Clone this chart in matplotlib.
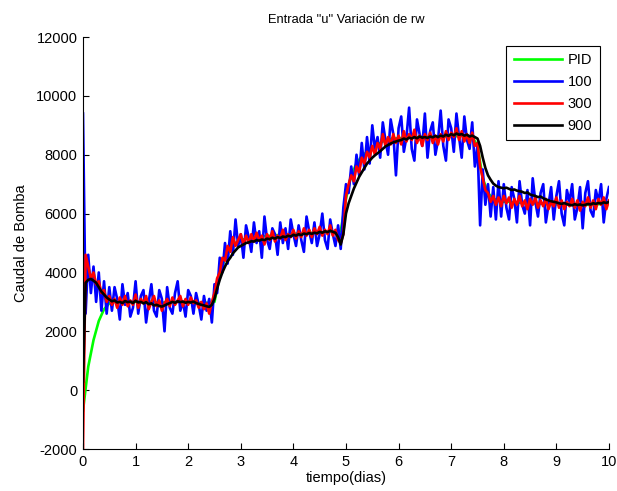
import numpy as np
import matplotlib.pyplot as plt

# time grids (dias)
t_fine = np.linspace(0, 10, 201)   # 0.05 dia
t_pid = np.linspace(0, 10, 101)    # 0.1 dia

# PID reference
u_pid = [-700, 800, 1700, 2350, 2750, 2950, 3000, 3000, 2990, 3000,
         3000, 3010, 2990, 3000, 2980, 2970, 2990, 3000, 3000, 2990,
         2980, 2970, 2960, 2980, 2960, 3000, 3900, 4500, 4850, 5000,
         5100, 5150, 5180, 5200, 5220, 5240, 5250, 5270, 5280, 5300,
         5310, 5320, 5330, 5340, 5350, 5360, 5370, 5380, 5380, 5400,
         6500, 7300, 7700, 7950, 8100, 8250, 8350, 8450, 8520, 8550,
         8560, 8570, 8580, 8590, 8600, 8600, 8600, 8610, 8620, 8620,
         8630, 8630, 8640, 8640, 8620, 8300, 7200, 6700, 6500, 6450,
         6400, 6400, 6380, 6370, 6360, 6350, 6350, 6340, 6330, 6330,
         6320, 6320, 6310, 6310, 6300, 6300, 6300, 6310, 6320, 6330,
         6340]

# rw = 100
u_100 = [9400, 2600, 4600, 3300, 4200, 3000, 4000, 2700, 3700, 2600, 3500,
         2700, 3500, 3100, 2400, 3600, 2900, 3300, 2500, 2800, 3700,
         2600, 3200, 3400, 2300, 3000, 3600, 2700, 2500, 3400, 3100,
         2000, 3500, 2800, 2600, 3300, 3700, 2700, 3000, 2500, 3400,
         3200, 2600, 3300, 2900, 2400, 3200, 2700,
         3100, 2300, 3600, 3300, 4500, 4000, 5000, 4300, 5400, 4600,
         5800, 4900, 5300, 4500, 5600, 5200, 4700, 5700, 5000, 5400,
         4500, 5900, 5100, 4800, 5500, 5300, 4600, 5700, 5000, 5500,
         4800, 5800, 5300, 4900, 5600, 5100, 4700, 5900, 5400, 5000,
         5700, 4900, 5300, 6000, 5100, 4800, 5800, 5300, 4900, 5600,
         4800, 6200, 7000, 6700, 7600, 7000, 8000, 7300, 8400, 7500,
         8600, 7700,
         9000, 8200, 8600, 7900, 9100, 8500, 8000, 9200, 8700, 7300,
         8900, 9300, 8100, 8600, 9600, 8200, 7800, 9200, 8700, 8300,
         9400, 7900, 8800, 9100, 8000, 8500, 9500, 8300, 7800, 9200,
         8900, 8100, 9400, 8600, 7900, 9300, 8500, 8200, 9100, 7600,
         8300, 5600, 7500, 6300, 7000, 5900, 6900, 5800, 7100, 5900,
         7000, 6200, 5800, 6900, 6500, 5700, 7100, 6300, 6000, 6800,
         5600, 7200, 6400, 5900, 6700, 7000, 5700, 6300, 6900, 5800,
         6600, 7100, 6000, 5600, 6800, 6400, 7000, 5800, 6200, 6900,
         5500, 6700, 7100, 6100, 5900, 6800, 6400, 7000, 5700, 6500,
         6900]

# rw = 300
u_300 = [-2000, 4600, 4200, 3800, 4000, 3600, 3700, 3300, 3400, 3000, 3200,
         2900, 3100, 2800, 3150, 2900, 3200, 2850, 3050, 2900, 3250,
         2800, 3100, 2950, 3200, 2750, 3000, 3200, 2850, 3050, 2700,
         2950, 3100, 2850, 3150, 2900, 3050, 3200, 2850, 3100, 2900,
         3150, 2950, 3050, 2800, 3000, 2750, 2950, 2600, 3000, 3300,
         3800, 4000, 4500, 4400, 4900, 4700, 5200, 4900, 5100, 5300,
         4950, 5250, 5000, 5300, 5050, 5350, 5100, 5250, 4950, 5300,
         5100, 5400, 5050, 5250, 5150, 5450, 5100, 5300, 5200, 5450,
         5150, 5400, 5200, 5500, 5250, 5450, 5200, 5500, 5300, 5550,
         5250, 5450, 5300, 5600, 5250, 5450, 5100, 5000, 5300, 6600,
         7000, 7300, 7100, 7600, 7400, 7900, 7700, 8100, 7900, 8300,
         8000, 8400, 8200, 8700, 8300, 8600, 8350, 8700, 8400, 8650,
         8350, 8800, 8450, 8700, 8500, 8850, 8400, 8650, 8300, 8700,
         8500, 8750, 8400, 8650, 8350, 8700, 8450, 8800, 8500, 8750,
         8600, 8900, 8500, 8800, 8450, 8700, 8400, 8750, 8300, 8400,
         7600, 7200, 6800, 6700, 6400, 6600, 6300, 6550, 6250, 6600,
         6350, 6550, 6200, 6500, 6300, 6600, 6250, 6450, 6150, 6500,
         6300, 6550, 6200, 6450, 6250, 6500, 6150, 6400, 6250, 6550,
         6200, 6450, 6150, 6400, 6250, 6500, 6200, 6450, 6100, 6400,
         6250, 6550, 6200, 6450, 6150, 6500, 6300, 6550, 6150, 6450]

# rw = 900
u_900 = [300, 3650, 3750, 3780, 3720, 3650, 3500, 3350, 3250, 3150, 3080,
         3020, 3050, 2980, 3000, 2960, 3030, 2990, 3010, 2960, 3040,
         2980, 3000, 2950, 2990, 2920, 2950, 2880, 2900, 2860, 2840,
         2880, 2920, 2960, 3000, 2970, 3020, 2990, 3010, 2970, 3000,
         2980, 3010, 2960, 2930, 2900, 2880, 2850, 2830, 2900, 3100,
         3450, 3750, 4000, 4200, 4380, 4500, 4650, 4750, 4850, 4900,
         4950, 5000, 5020, 5060, 5050, 5100, 5080, 5120, 5100, 5150,
         5130, 5180, 5150, 5200, 5170, 5220, 5200, 5250, 5220, 5280,
         5250, 5300, 5270, 5320, 5300, 5340, 5310, 5350, 5330, 5380,
         5350, 5400, 5370, 5420, 5380, 5350, 5200, 4950, 5300, 6000,
         6350, 6600, 6850, 7050, 7250, 7400, 7550, 7700, 7800, 7900,
         7980, 8050, 8120, 8200, 8280, 8330, 8380, 8420, 8450, 8480,
         8500, 8550, 8520, 8580, 8550, 8600, 8560, 8620, 8580, 8600,
         8570, 8620, 8590, 8640, 8600, 8650, 8620, 8680, 8640, 8700,
         8660, 8720, 8680, 8700, 8650, 8680, 8620, 8650, 8600, 8550,
         8300, 7900, 7550, 7300, 7150, 7020, 6950, 6900, 6880, 6860,
         6880, 6840, 6800, 6820, 6780, 6760, 6740, 6700, 6720, 6650,
         6620, 6600, 6560, 6580, 6520, 6480, 6450, 6420, 6400, 6380,
         6350, 6330, 6360, 6320, 6300, 6280, 6320, 6290, 6310, 6280,
         6300, 6330, 6310, 6350, 6330, 6360, 6340, 6380, 6360, 6400]

plt.rcParams['font.family'] = ['Liberation Sans', 'DejaVu Sans']
plt.rcParams['font.size'] = 10.5
plt.rcParams['axes.unicode_minus'] = False

fig = plt.figure(figsize=(6.17, 4.91), dpi=100)
ax = fig.add_axes([0.1345, 0.0855, 0.8525, 0.8391])

lw = 1.9
ax.plot(t_pid, u_pid, color='#00ff00', lw=lw, label='PID')
ax.plot(t_fine, u_100, color='#0000ff', lw=lw, label='100')
ax.plot(t_fine, u_300, color='#ff0000', lw=lw, label='300')
ax.plot(t_fine, u_900, color='black', lw=lw, label='900')

ax.set_xlim(0, 10)
ax.set_ylim(-2000, 12000)
ax.set_xticks(range(0, 11))
ax.set_yticks(range(-2000, 12001, 2000))
ax.tick_params(direction='in', length=4, width=0.8, pad=4)
ax.spines['top'].set_visible(False)
ax.spines['right'].set_visible(False)

ax.set_title('Entrada "u" Variación de rw', fontsize=9.3, pad=10)
ax.set_xlabel('tiempo(dias)', labelpad=2)
ax.set_ylabel('Caudal de Bomba', labelpad=6)

leg = ax.legend(loc='upper right', bbox_to_anchor=(0.996, 0.997), fancybox=False,
                framealpha=1, edgecolor='black', handlelength=3.3,
                handletextpad=0.4, borderpad=0.5, labelspacing=0.55)
leg.get_frame().set_linewidth(0.8)

fig.savefig('out.png', dpi=100)
